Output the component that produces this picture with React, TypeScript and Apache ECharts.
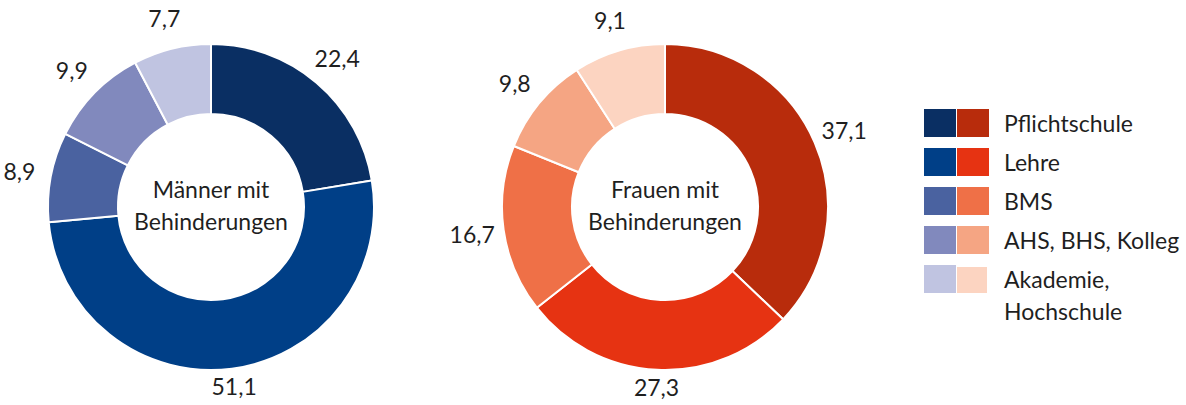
import React, { useEffect, useRef } from "react";
import * as echarts from "echarts";

const categories = ["Pflichtschule", "Lehre", "BMS", "AHS, BHS, Kolleg", "Akademie, Hochschule"];
const legendLabels = ["Pflichtschule", "Lehre", "BMS", "AHS, BHS, Kolleg", "Akademie,\nHochschule"];
const menValues = [22.4, 51.1, 8.9, 9.9, 7.7];
const womenValues = [37.1, 27.3, 16.7, 9.8, 9.1];
const menColors = ["#0a2f63", "#003f87", "#4a62a0", "#8189bd", "#c0c4e1"];
const womenColors = ["#b82c0c", "#e63312", "#ef7047", "#f5a583", "#fcd4c1"];
const menTitle = "Männer mit\nBehinderungen";
const womenTitle = "Frauen mit\nBehinderungen";

const FONT = "Lato, 'Open Sans', sans-serif";
const FS = 23;
const W = 1186;
const H = 405;
const centers: [number, number][] = [
  [211, 207],
  [665, 207],
];
const R_IN = 93;
const R_OUT = 163;
const TEXT = "#1f1f1f";

function fmt(v: number) {
  return v.toFixed(1).replace(".", ",");
}

export default function App() {
  const ref = useRef<HTMLDivElement>(null);
  useEffect(() => {
    document.body.style.margin = "0";
    if (!ref.current) return;
    const chart = echarts.init(ref.current, undefined, { renderer: "svg" });
    const allValues = [menValues, womenValues];

    const labelLayout = (params: any) => {
      const vals = allValues[params.seriesIndex];
      const total = vals.reduce((a, b) => a + b, 0);
      let start = 0;
      for (let k = 0; k < params.dataIndex; k++) start += vals[k];
      const mid = (start + vals[params.dataIndex] / 2) / total;
      const phi = mid * Math.PI * 2;
      const dx = Math.sin(phi);
      const dy = -Math.cos(phi);
      const [cx, cy] = centers[params.seriesIndex];
      const d = R_OUT + 32 - 15 * Math.pow(Math.max(0, dy), 2);
      return {
        x: cx + dx * d,
        y: cy + dy * d,
        align: "center",
        verticalAlign: "middle",
      };
    };

    const makeSeries = (vals: number[], colors: string[], idx: number) => ({
      type: "pie",
      center: centers[idx],
      radius: [R_IN, R_OUT],
      startAngle: 90,
      clockwise: true,
      avoidLabelOverlap: false,
      data: categories.map((c, i) => ({
        name: c,
        value: vals[i],
        itemStyle: { color: colors[i] },
      })),
      itemStyle: { borderColor: "#ffffff", borderWidth: 2 },
      label: {
        show: true,
        position: "outside",
        formatter: (p: any) => fmt(p.value),
        fontFamily: FONT,
        fontSize: FS,
        color: TEXT,
      },
      labelLine: { show: false, length: 10, length2: 0 },
      labelLayout,
      emphasis: { disabled: true },
    });

    // legend drawn as graphic (two colour swatches per category)
    const LX = 924;
    const LY = 109;
    const SW = 32;
    const SH = 28;
    const PITCH = 39;
    const legendEls: any[] = [];
    categories.forEach((_, i) => {
      const y = LY + i * PITCH;
      legendEls.push({
        type: "rect",
        shape: { x: LX, y, width: SW, height: SH },
        style: { fill: menColors[i] },
        silent: true,
      });
      const last = i === categories.length - 1;
      legendEls.push({
        type: "rect",
        shape: last
          ? { x: LX + SW + 1, y: y + 2, width: SW - 2, height: SH - 2 }
          : { x: LX + SW + 1, y, width: SW, height: SH },
        style: { fill: womenColors[i] },
        silent: true,
      });
      legendEls.push({
        type: "text",
        silent: true,
        style: {
          text: legendLabels[i],
          x: LX + 2 * SW + 16,
          y: last ? y + SH / 2 - 16 : y + SH / 2,
          align: "left",
          verticalAlign: last ? "top" : "middle",
          font: `${FS}px ${FONT}`,
          lineHeight: 32,
          fill: TEXT,
        },
      });
    });

    chart.setOption({
      animation: false,
      graphic: [
        {
          type: "text",
          x: centers[0][0],
          y: centers[0][1] - 2,
          style: {
            text: menTitle,
            x: 0,
            y: 0,
            align: "center",
            verticalAlign: "middle",
            font: `${FS}px ${FONT}`,
            lineHeight: 32,
            fill: TEXT,
          },
        },
        {
          type: "text",
          x: centers[1][0],
          y: centers[1][1] - 2,
          style: {
            text: womenTitle,
            x: 0,
            y: 0,
            align: "center",
            verticalAlign: "middle",
            font: `${FS}px ${FONT}`,
            lineHeight: 32,
            fill: TEXT,
          },
        },
        ...legendEls,
      ],
      series: [makeSeries(menValues, menColors, 0), makeSeries(womenValues, womenColors, 1)],
    });
    return () => chart.dispose();
  }, []);
  return <div ref={ref} style={{ width: W, height: H }} />;
}
